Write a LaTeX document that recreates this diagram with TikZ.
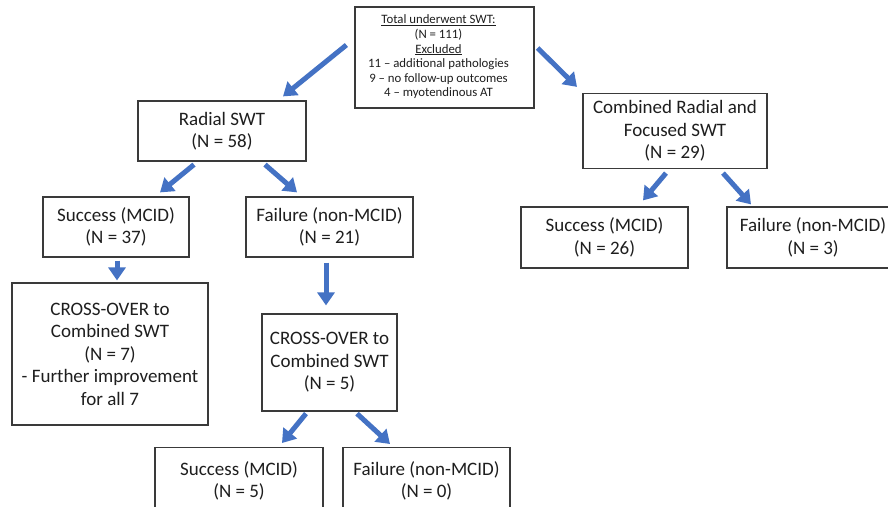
\documentclass[tikz,border=0pt]{standalone}
\usepackage{fontspec}
\setmainfont{Carlito}
\usetikzlibrary{arrows.meta}
\definecolor{arrblue}{HTML}{4472C4}
\definecolor{boxgray}{HTML}{3A3A3A}
\definecolor{txt}{HTML}{1E1E1E}
\tikzset{
  box/.style={draw=boxgray, line width=1.2pt, align=center, inner sep=0pt, text=txt,
    font=\fontsize{19}{22.5}\selectfont},
  smallbox/.style={box, font=\fontsize{12.8}{14.6}\selectfont},
  arr/.style={draw=arrblue, line width=5pt, -{Triangle[length=13pt,width=17pt]}}
}
\begin{document}
\begin{tikzpicture}[x=1pt,y=-1pt]
\useasboundingbox (0,0) rectangle (888,506);
\fill[white] (0,0) rectangle (888,506);
\clip (0,0) rectangle (888,506);

\node[smallbox, minimum width=179pt, minimum height=101pt] (top) at (444.5,57.5)
  {\begin{tabular}{@{}c@{}}\underline{Total underwent SWT:}\\(N = 111)\\\underline{Excluded}\\11 – additional pathologies\\9 – no follow-up outcomes\\4 – myotendinous AT\end{tabular}\hspace*{12pt}};

\node[box, minimum width=168pt, minimum height=60pt] (radial) at (222,131) {Radial SWT\\(N = 58)};
\node[box, minimum width=184pt, minimum height=75pt] (comb) at (675,131) {Combined Radial and\\Focused SWT\\(N = 29)};

\node[box, minimum width=146pt, minimum height=60pt] (s37) at (116,227) {Success (MCID)\\(N = 37)};
\node[box, minimum width=167pt, minimum height=60pt] (f21) at (329.5,227) {Failure (non-MCID)\\(N = 21)};

\node[box, minimum width=167pt, minimum height=61pt] (s26) at (604.5,237.5) {Success (MCID)\\(N = 26)};
\node[box, minimum width=172pt, minimum height=61pt] (f3) at (813,237.5) {Failure (non-MCID)\\(N = 3)};

\node[box, minimum width=196pt, minimum height=142pt] (c7) at (110,354) {CROSS-OVER to\\Combined SWT\\(N = 7)\\- Further improvement\\for all 7};
\node[box, minimum width=135pt, minimum height=97pt] (c5) at (329.5,362.5) {CROSS-OVER to\\Combined SWT\\(N = 5)};

\node[box, minimum width=168pt, minimum height=62pt, anchor=north] (s5) at (239,447) {\\[-4pt]Success (MCID)\\(N = 5)};
\node[box, minimum width=167pt, minimum height=62pt, anchor=north] (f0) at (426.5,447) {\\[-4pt]Failure (non-MCID)\\(N = 0)};

\draw[arr] ([shift={(-8,-12.5)}]top.west) -- ([shift={(61,-4)}]radial.north);
\draw[arr] ([shift={(3,-9.5)}]top.east) -- ([shift={(-98,-6)}]comb.north);
\draw[arr] ([shift={(-28,3)}]radial.south) -- ([shift={(44,-4)}]s37.north);
\draw[arr] ([shift={(43,3)}]radial.south) -- ([shift={(-32.5,-4)}]f21.north);
\draw[arr] ([shift={(1,3)}]s37.south) -- ([shift={(7,-2)}]c7.north);
\draw[arr] ([shift={(-3.5,5)}]f21.south) -- ([shift={(-3.5,-8)}]c5.north);
\draw[arr] ([shift={(-9,4)}]comb.south) -- ([shift={(38.5,-6)}]s26.north);
\draw[arr] ([shift={(48,4)}]comb.south) -- ([shift={(-62,-2)}]f3.north);
\draw[arr] ([shift={(-23.5,2)}]c5.south) -- ([shift={(43,-4)}]s5.north);
\draw[arr] ([shift={(27.5,2)}]c5.south) -- ([shift={(-36.5,-3)}]f0.north);
\end{tikzpicture}
\end{document}
